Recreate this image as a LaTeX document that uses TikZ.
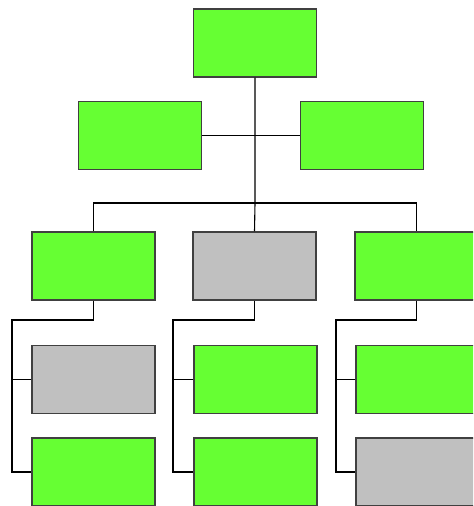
\documentclass[tikz,border=0pt]{standalone}
\definecolor{unitgreen}{RGB}{102,255,51}
\definecolor{unitgray}{RGB}{192,192,192}
\tikzset{
  box/.style={draw=black!75,line width=0.75pt,minimum width=61.5pt,minimum height=34pt,inner sep=0pt},
  greenbox/.style={box,fill=unitgreen},
  graybox/.style={box,fill=unitgray}
}
\begin{document}
\begin{tikzpicture}[x=0.5pt,y=-0.5pt,line width=0.55pt]
\useasboundingbox (0,0) rectangle (473,506);
\clip (0,0) rectangle (473,506);
% boxes
\node[greenbox] (top) at (255,43) {};
\node[greenbox] (left) at (140,135.5) {};
\node[greenbox] (right) at (362,135.5) {};
\node[greenbox] (unitA) at (93.5,266) {};
\node[graybox] (unitB) at (254.5,266) {};
\node[greenbox] (unitC) at (416.5,266) {};
\node[graybox] (subA1) at (93.5,379.5) {};
\node[greenbox] (subA2) at (93.5,472) {};
\node[greenbox] (subB1) at (255.5,379.5) {};
\node[greenbox] (subB2) at (255.5,472) {};
\node[greenbox] (subC1) at (417.5,379.5) {};
\node[graybox] (subC2) at (417.5,472) {};
% connectors
\coordinate (bus) at (255,203);
\coordinate (railA) at (12,320);
\coordinate (railB) at (173,320);
\coordinate (railC) at (336,320);
\draw (top.south) -- (bus) -- (unitB.north);
\draw (left.east) -- (right.west);
\draw (unitA.north) |- (bus) -| (unitC.north);
\draw (unitA.south) |- (railA) |- (subA2.west);
\draw (subA1.west) -- (subA1.west -| railA);
\draw (unitB.south) |- (railB) |- (subB2.west);
\draw (subB1.west) -- (subB1.west -| railB);
\draw (unitC.south) |- (railC) |- (subC2.west);
\draw (subC1.west) -- (subC1.west -| railC);
\end{tikzpicture}
\end{document}
